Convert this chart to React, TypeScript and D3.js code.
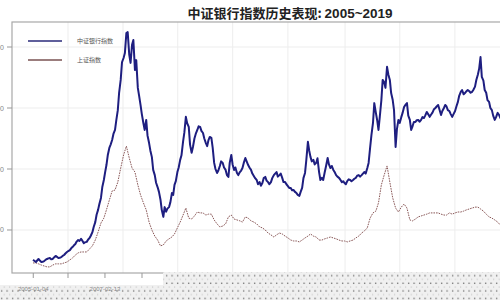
import React from 'react';
import * as d3 from 'd3';

const months: Date[] = d3.timeMonth.range(new Date(2005, 0, 1), new Date(2019, 2, 1));
// two observations per month: the 1st and the 15th
const halfMonths: Date[] = months.flatMap((m) => [m, d3.timeDay.offset(m, 14)]);

const bankIndex: number[] = [
  // 2005
  1020, 990, 950, 1000, 1050, 1000, 950, 960, 980, 1020, 1050, 1070,
  1080, 1040, 1050, 1100, 1150, 1120, 1080, 1090, 1110, 1150, 1180, 1230,
  // 2006
  1280, 1310, 1340, 1400, 1440, 1490, 1540, 1620, 1670, 1640, 1710, 1650,
  1570, 1600, 1610, 1680, 1740, 1820, 1930, 2100, 2260, 2500, 2660, 2850,
  // 2007
  3050, 3400, 3640, 3900, 4130, 4450, 4690, 4800, 4950, 5150, 5280, 5600,
  5930, 6500, 6920, 7500, 7640, 7800, 8460, 8490, 7740, 7480, 8070, 8230,
  // 2008
  7250, 7570, 6660, 6400, 6100, 5800, 5500, 5280, 5610, 5100, 4850, 4600,
  4390, 3970, 3800, 3550, 3400, 3250, 3000, 2660, 2430, 2750, 2600, 2700,
  // 2009
  2750, 2900, 3210, 3150, 3480, 3600, 3900, 4050, 4300, 4450, 4900, 5200,
  5710, 5500, 5380, 4800, 4530, 4720, 5000, 5150, 5280, 5400, 5380, 5250,
  // 2010
  5180, 5000, 4850, 4750, 4950, 5050, 5020, 4700, 4200, 4000, 3870, 3950,
  4100, 4250, 4200, 4050, 3970, 3800, 3740, 4200, 4460, 4150, 3970, 4050,
  // 2011
  3870, 3800, 3900, 3950, 4030, 4200, 4360, 4250, 4130, 4050, 3970, 3850,
  3770, 3700, 3640, 3500, 3570, 3450, 3540, 3700, 3740, 3620, 3570, 3500,
  // 2012
  3570, 3700, 3800, 3850, 3900, 3750, 3800, 3850, 3710, 3570, 3570, 3500,
  3440, 3380, 3380, 3300, 3310, 3250, 3210, 3150, 3120, 3250, 3380, 3700,
  // 2013
  3870, 4300, 4890, 4600, 4390, 4250, 4300, 4150, 4200, 4350, 3900, 3640,
  3710, 3640, 3900, 4100, 4360, 4150, 4030, 4100, 3970, 3900, 3800, 3750,
  // 2014
  3710, 3650, 3570, 3600, 3540, 3500, 3610, 3660, 3640, 3600, 3640, 3680,
  3710, 3780, 3800, 3750, 3800, 3850, 3900, 3850, 4030, 4200, 4690, 5100,
  // 2015
  5510, 6160, 5840, 5600, 5280, 5710, 6260, 6920, 6850, 6660, 7350, 7100,
  6920, 6490, 6260, 5930, 4720, 5300, 5610, 5510, 5700, 5840, 6030, 6100,
  // 2016
  6160, 5750, 5610, 5280, 5400, 5540, 5540, 5600, 5610, 5550, 5610, 5700,
  5670, 5750, 5870, 5800, 5710, 5780, 5850, 5950, 6000, 6050, 6100, 5950,
  // 2017
  5770, 5900, 6000, 6100, 6050, 5930, 5900, 5800, 5710, 5800, 5900, 6050,
  6200, 6400, 6530, 6590, 6450, 6490, 6550, 6590, 6550, 6500, 6530, 6600,
  // 2018
  6700, 6920, 7100, 7300, 7670, 7020, 6900, 6590, 6500, 6260, 6200, 6000,
  5930, 5750, 5610, 5700, 5840, 5780, 5670, 5720, 5770, 5650, 5610, 5700,
  // 2019
  5670, 5800, 5930, 6000,
];

const shIndex: number[] = [
  920, 920, 890, 850, 820, 790, 790, 850, 890, 890, 890, 920,
  950, 1020, 1080, 1180, 1250, 1280, 1280, 1280, 1380, 1480, 1670, 1930,
  2230, 2390, 2660, 2980, 3280, 3310, 3570, 4030, 4460, 4750, 4360, 4030,
  3900, 3480, 3150, 2890, 2660, 2260, 2000, 1800, 1670, 1480, 1510, 1640,
  1710, 1770, 1870, 2070, 2260, 2490, 2720, 2390, 2360, 2460, 2590, 2560,
  2560, 2490, 2520, 2520, 2330, 2200, 2100, 2130, 2200, 2430, 2490, 2360,
  2330, 2300, 2260, 2430, 2390, 2300, 2260, 2200, 2100, 2070, 2000, 1900,
  1840, 1770, 1840, 1900, 1870, 1800, 1740, 1670, 1640, 1640, 1610, 1670,
  1740, 1800, 1870, 1800, 1770, 1670, 1670, 1710, 1740, 1770, 1740, 1710,
  1670, 1640, 1640, 1610, 1640, 1670, 1740, 1800, 1900, 1970, 2070, 2390,
  2560, 2620, 2890, 3480, 3800, 4100, 3570, 3050, 2720, 2590, 2750, 2850,
  2720, 2330, 2300, 2360, 2430, 2460, 2490, 2520, 2560, 2560, 2560, 2560,
  2520, 2490, 2490, 2560, 2520, 2560, 2590, 2590, 2620, 2660, 2690, 2720,
  2750, 2750, 2690, 2620, 2520, 2430, 2390, 2330, 2260, 2160, 2130, 2100,
  2130, 2200,
];

const yTicks: number[] = [2000, 4000, 6000, 8000];
const xTickDates: string[] = ['2005-01-04', '2006-01-12', '2007-02-13', '2008-03-17'];
const xLabelDates: string[] = ['2005-01-04', '2007-02-13'];
const xGridDates: string[] = ['2006-01-12', '2007-08-26', '2009-04-05', '2010-11-16', '2012-07-01', '2014-03-07', '2015-10-16', '2017-05-30'];
const seriesNames: string[] = ['中证银行指数', '上证指数'];
const titleCn = '中证银行指数历史表现: ';
const titleYears = '2005~2019';

const parse = d3.timeParse('%Y-%m-%d');

export default function App() {
  const x = d3.scaleTime().domain([new Date(2005, 0, 1), new Date(2019, 0, 1)]).range([33, 509]);
  const y = d3.scaleLinear().domain([590, 8820]).range([273, 22]);
  const bankLine = d3
    .line<number>()
    .x((_, i) => x(halfMonths[i]))
    .y((d) => y(d));
  const shLine = d3
    .line<number>()
    .x((_, i) => x(months[i]))
    .y((d) => y(d));

  const left = 12;
  const top = 22;
  const bottom = 273;
  const right = 520;

  return (
    <svg
      width={500}
      height={300}
      style={{ position: 'absolute', left: 0, top: 0, background: '#fff' }}
      fontFamily="'Liberation Sans', Arial, sans-serif"
    >
      <defs>
        <clipPath id="plotClip">
          <rect x={left} y={top} width={right - left} height={bottom - top} />
        </clipPath>
        <pattern id="dots" width={5.5} height={7.6} patternUnits="userSpaceOnUse">
          <rect width={5.5} height={7.6} fill="#f0f0f0" />
          <rect x={1} y={1.5} width={1.2} height={1.2} fill="#555" />
          <rect x={3.7} y={5.3} width={1} height={1} fill="#bbb" />
        </pattern>
      </defs>
      <rect x={0} y={0} width={500} height={300} fill="#fff" />

      {/* grid */}
      {yTicks.map((t) => (
        <line key={'gy' + t} x1={left} x2={right} y1={y(t)} y2={y(t)} stroke="#ededed" strokeWidth={1} />
      ))}
      {xGridDates.map((d) => (
        <line key={'gx' + d} x1={x(parse(d)!)} x2={x(parse(d)!)} y1={top} y2={bottom} stroke="#ededed" strokeWidth={1} />
      ))}

      {/* frame */}
      <rect x={left} y={top} width={right - left} height={bottom - top} fill="none" stroke="#a8a8a8" strokeWidth={1.2} />

      {/* y ticks (labels cut by the left edge, as in the source image) */}
      {yTicks.map((t) => (
        <g key={'yt' + t}>
          <line x1={7} x2={left} y1={y(t)} y2={y(t)} stroke="#999" strokeWidth={1} />
          <text x={4} y={y(t) + 2.5} textAnchor="end" fontSize={7} fill="#888">
            {t}
          </text>
        </g>
      ))}

      {/* x ticks */}
      {xTickDates.map((d) => (
        <line key={'xt' + d} x1={x(parse(d)!)} x2={x(parse(d)!)} y1={bottom} y2={bottom + 5} stroke="#999" strokeWidth={1} />
      ))}

      {/* series */}
      <g clipPath="url(#plotClip)">
        <path d={shLine(shIndex) || ''} fill="none" stroke="#8a5858" strokeWidth={1} strokeDasharray="1.6,1" />
        <path d={bankLine(bankIndex) || ''} fill="none" stroke="#1e1e80" strokeWidth={2} strokeLinejoin="round" />
      </g>

      {/* legend */}
      <line x1={28} x2={62} y1={41} y2={41} stroke="#2a2a7a" strokeWidth={1.3} />
      <text x={77} y={43} fontSize={6} fill="#555" fontFamily="'Noto Sans CJK SC', sans-serif">
        {seriesNames[0]}
      </text>
      <line x1={28} x2={62} y1={60} y2={60} stroke="#7a5252" strokeWidth={1.3} />
      <text x={77} y={62} fontSize={6} fill="#555" fontFamily="'Noto Sans CJK SC', sans-serif">
        {seriesNames[1]}
      </text>

      {/* title */}
      <text x={290} y={18} textAnchor="middle" fill="#222" fontWeight="bold">
        <tspan fontFamily="'Noto Sans CJK SC', sans-serif" fontSize={13}>
          {titleCn}
        </tspan>
        <tspan fontFamily="'Liberation Sans', Arial, sans-serif" fontSize={13.5}>
          {titleYears}
        </tspan>
      </text>

      {/* dotted band at the bottom */}
      <path d="M163,272 H500 V300 H0 V285 H163 Z" fill="url(#dots)" />

      {/* x labels */}
      {xLabelDates.map((d) => (
        <text key={'xl' + d} x={x(parse(d)!)} y={291} textAnchor="middle" fontSize={6} fill="#888">
          {d}
        </text>
      ))}
    </svg>
  );
}
